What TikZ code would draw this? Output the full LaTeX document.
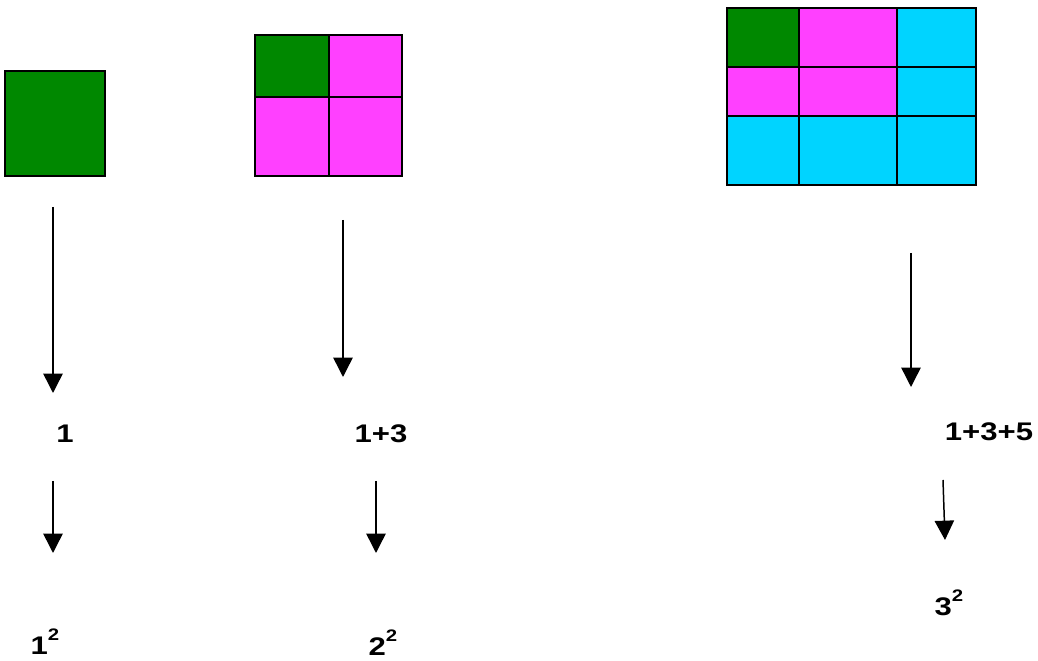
\documentclass[tikz,border=0pt]{standalone}
\usepackage{fontspec}
\usetikzlibrary{arrows.meta}
\newfontfamily\lblfont{Liberation Sans}[FakeStretch=1.22]
\definecolor{sqgreen}{RGB}{0,136,0}
\definecolor{sqpink}{RGB}{255,64,255}
\definecolor{sqcyan}{RGB}{0,212,255}
\newcommand{\sqlabel}[1]{#1\raisebox{8pt}{\fontsize{9.5}{10}\selectfont 2}}
\tikzset{
  cell/.style={draw=black, line width=1.2pt},
  down/.style={line width=0.85pt, -{Triangle[width=11pt,length=11pt]}},
  sum/.style={font=\lblfont\bfseries\fontsize{14.5}{16}\selectfont, inner sep=0pt, anchor=base}
}
\begin{document}
\begin{tikzpicture}[x=0.02cm, y=-0.02cm]

    \useasboundingbox (0,0) rectangle (1038,661);

    % 1. Hình vuông 1 x 1
    \filldraw[cell, fill=sqgreen] (5,71) rectangle (105,176);

    % 2. Hình vuông 2 x 2
    \filldraw[cell, fill=sqgreen] (255,35) rectangle (329,97);
    \filldraw[cell, fill=sqpink] (329,35) rectangle (402,97);
    \filldraw[cell, fill=sqpink] (255,97) rectangle (329,176);
    \filldraw[cell, fill=sqpink] (329,97) rectangle (402,176);

    % 3. Hình vuông 3 x 3
    \filldraw[cell, fill=sqgreen] (727,8) rectangle (799,67);
    \filldraw[cell, fill=sqpink] (799,8) rectangle (897,67);
    \filldraw[cell, fill=sqcyan] (897,8) rectangle (976,67);
    \filldraw[cell, fill=sqpink] (727,67) rectangle (799,116);
    \filldraw[cell, fill=sqpink] (799,67) rectangle (897,116);
    \filldraw[cell, fill=sqcyan] (897,67) rectangle (976,116);
    \filldraw[cell, fill=sqcyan] (727,116) rectangle (799,185);
    \filldraw[cell, fill=sqcyan] (799,116) rectangle (897,185);
    \filldraw[cell, fill=sqcyan] (897,116) rectangle (976,185);

    % 4. Các tổng
    \node[sum] (t1) at (65,443) {1};
    \node[sum] (t2) at (381,443) {1+3};
    \node[sum] (t3) at (989,441) {1+3+5};

    % 5. Các bình phương
    \node[sum] (p1) at (45,655) {\sqlabel{1}};
    \node[sum] (p2) at (383,656) {\sqlabel{2}};
    \node[sum] (p3) at (949,616) {\sqlabel{3}};

    % 6. Các mũi tên
    \coordinate (a1) at (53,207);  \coordinate (b1) at (53,393);
    \coordinate (a2) at (343,220); \coordinate (b2) at (343,377);
    \coordinate (a3) at (911,253); \coordinate (b3) at (911,387);
    \coordinate (c1) at (53,481);  \coordinate (d1) at (53,553);
    \coordinate (c2) at (376,481); \coordinate (d2) at (376,553);
    \coordinate (c3) at (943,480); \coordinate (d3) at (945,540);

    \draw[down] (a1) -- (b1);
    \draw[down] (a2) -- (b2);
    \draw[down] (a3) -- (b3);
    \draw[down] (c1) -- (d1);
    \draw[down] (c2) -- (d2);
    \draw[down] (c3) -- (d3);

\end{tikzpicture}
\end{document}
